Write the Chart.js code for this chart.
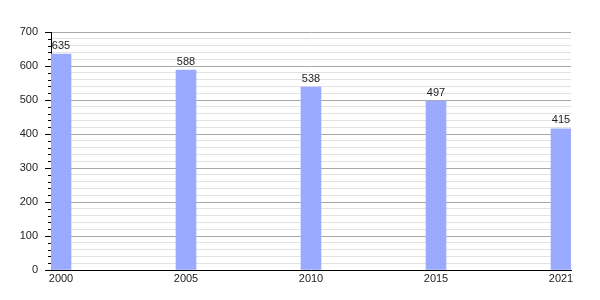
<!DOCTYPE html>
<html lang="en">
  <head>
    <meta charset="utf-8">
    <script src="https://cdn.jsdelivr.net/npm/chart.js@4/dist/chart.umd.min.js"></script>
    <title>Population</title>
    <style>
      html, body { margin: 0; padding: 0; background: #fff; }
      .chartContainer { width: 600px; height: 300px; }
    </style>
  </head>
  <body>
    <div class="chartContainer">
      <canvas id="myChart"></canvas>
    </div>
    <script type="text/javascript">
      const years = ['2000', '2005', '2010', '2015', '2021'];
      const population = [635, 588, 538, 497, 415];
      const yTicks = [0, 100, 200, 300, 400, 500, 600, 700];

      const font = { family: 'Liberation Sans, Arial, sans-serif', size: 11 };

      // value labels above the bars + short minor tick marks on the y axis
      const extras = {
        id: 'extras',
        afterDatasetsDraw(chart) {
          const ctx = chart.ctx;
          const meta = chart.getDatasetMeta(0);
          ctx.save();
          ctx.font = '11px ' + font.family;
          ctx.fillStyle = '#222';
          ctx.textAlign = 'center';
          ctx.textBaseline = 'bottom';
          meta.data.forEach((bar, i) => {
            ctx.fillText(population[i], bar.x, bar.y - 3);
          });
          const y = chart.scales.y;
          ctx.strokeStyle = '#000';
          ctx.lineWidth = 1;
          for (let v = 0; v <= 700; v += 20) {
            if (v % 100 === 0) continue;
            const py = Math.round(y.getPixelForValue(v)) + 0.5;
            ctx.beginPath();
            ctx.moveTo(chart.chartArea.left - 3, py);
            ctx.lineTo(chart.chartArea.left, py);
            ctx.stroke();
          }
          ctx.restore();
        }
      };

      new Chart(document.getElementById('myChart'), {
        type: 'bar',
        data: {
          datasets: [{
            data: population.map((v, i) => ({ x: i, y: v })),
            backgroundColor: '#99aaff',
            borderWidth: 0,
            barThickness: 20
          }]
        },
        options: {
          responsive: true,
          maintainAspectRatio: false,
          animation: false,
          layout: { padding: { top: 32, right: 29, left: 0, bottom: 0 } },
          plugins: { legend: { display: false }, tooltip: { enabled: false } },
          scales: {
            x: {
              type: 'linear',
              offset: false,
              min: -0.08,
              max: 4.08,
              afterBuildTicks: s => { s.ticks = years.map((_, i) => ({ value: i })); },
              afterFit: s => { s.height = 30; },
              grid: { display: false, drawTicks: false },
              border: { color: '#000', width: 1 },
              ticks: {
                callback: v => years[v],
                font: font,
                color: '#222',
                padding: 2,
                maxRotation: 0
              }
            },
            y: {
              min: 0,
              max: 700,
              afterBuildTicks: s => {
                const t = [];
                for (let v = 0; v <= 700; v += 20) t.push({ value: v });
                s.ticks = t;
              },
              afterFit: s => { s.width = 51; },
              border: { color: '#000', width: 1 },
              grid: {
                color: c => (c.tick.value % 100 === 0 ? '#a8a8a8' : '#e2e2e2'),
                tickColor: c => (c.tick.value % 100 === 0 ? '#000' : 'rgba(0,0,0,0)'),
                tickLength: 6
              },
              ticks: {
                callback: v => (yTicks.includes(v) ? String(v) : ''),
                autoSkip: false,
                font: font,
                color: '#222',
                padding: 7
              }
            }
          }
        },
        plugins: [extras]
      });
    </script>
  </body>
</html>
